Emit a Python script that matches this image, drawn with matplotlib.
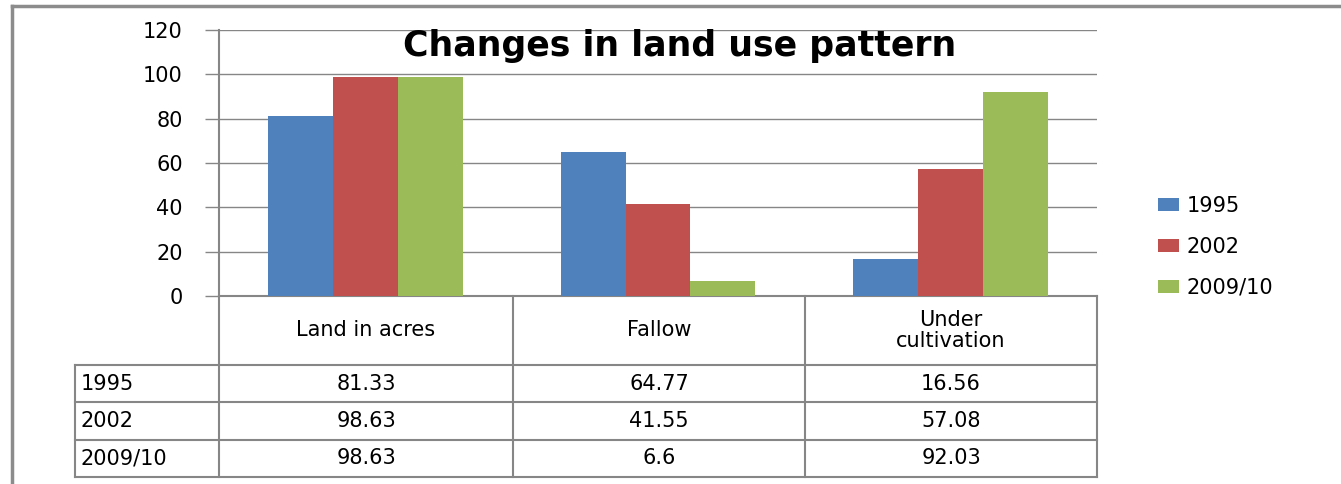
import numpy as np
import matplotlib.pyplot as plt
from matplotlib.lines import Line2D

# Chart data
categories = ['Land in acres', 'Fallow', 'Under\ncultivation']
series_names = ['1995', '2002', '2009/10']
values_1995 = [81.33, 64.77, 16.56]
values_2002 = [98.63, 41.55, 57.08]
values_2009 = [98.63, 6.6, 92.03]
colors = ['#4F81BD', '#C0504D', '#9BBB59']

W, H = 1341, 484
fig = plt.figure(figsize=(W / 100, H / 100), dpi=100)
plt.rcParams['font.family'] = 'DejaVu Sans'


def fx(px):
    return px / W


def fy(py):
    return 1 - py / H


grid_col = '#868686'
txt_size = 15

# plot area in pixels
left, right, top, bottom = 219, 1097, 30, 296
ax = fig.add_axes([fx(left), fy(bottom), fx(right) - fx(left), fy(top) - fy(bottom)])

x = np.arange(len(categories))
width = 0.222
all_values = [values_1995, values_2002, values_2009]
for i, (name, vals) in enumerate(zip(series_names, all_values)):
    ax.bar(x + (i - 1) * width, vals, width, color=colors[i], label=name, zorder=3)

ax.set_xlim(-0.5, len(categories) - 0.5)
ax.set_ylim(0, 120)
ax.set_yticks(range(0, 121, 20))
ax.yaxis.grid(True, color=grid_col, linewidth=1.0, zorder=0)
ax.set_xticks([])
for s in ['top', 'right']:
    ax.spines[s].set_visible(False)
for s in ['left', 'bottom']:
    ax.spines[s].set_color(grid_col)
    ax.spines[s].set_linewidth(1.5)
ax.tick_params(axis='y', length=10, color=grid_col, width=1.0, labelsize=txt_size, pad=16)

ax.text(0.525, 0.94, 'Changes in land use pattern', transform=ax.transAxes,
        ha='center', va='center', fontsize=25, fontweight='bold')

# legend
ax.legend(loc='center left', bbox_to_anchor=(fx(1139), fy(247)), bbox_transform=fig.transFigure,
          frameon=False, fontsize=txt_size, handlelength=1.0, handleheight=0.6,
          labelspacing=1.0, handletextpad=0.4)

# data table below the chart
col_edges = [219, 513, 805, 1097]
row_edges = [365, 402, 440, 477]
lw = 1.5


def hline(y, x0, x1):
    fig.add_artist(Line2D([fx(x0), fx(x1)], [fy(y), fy(y)], color=grid_col, lw=lw))


def vline(xp, y0, y1):
    fig.add_artist(Line2D([fx(xp), fx(xp)], [fy(y0), fy(y1)], color=grid_col, lw=lw))


for xp in col_edges:
    vline(xp, bottom, row_edges[-1])
vline(75, row_edges[0], row_edges[-1])
for yp in row_edges:
    hline(yp, 75, col_edges[-1])

for j, cat in enumerate(categories):
    cx = (col_edges[j] + col_edges[j + 1]) / 2
    fig.text(fx(cx), fy((bottom + row_edges[0]) / 2), cat, ha='center', va='center',
             fontsize=txt_size, linespacing=1.05)

for i, (name, vals) in enumerate(zip(series_names, all_values)):
    cy = (row_edges[i] + row_edges[i + 1]) / 2
    fig.text(fx(81), fy(cy), name, ha='left', va='center', fontsize=txt_size)
    for j, v in enumerate(vals):
        cx = (col_edges[j] + col_edges[j + 1]) / 2
        fig.text(fx(cx), fy(cy), f'{v:g}', ha='center', va='center', fontsize=txt_size)

# outer frame
fig.add_artist(Line2D([fx(12), fx(12)], [fy(6), 0], color='#8c8c8c', lw=2.5))
fig.add_artist(Line2D([fx(12), 1], [fy(6), fy(6)], color='#8c8c8c', lw=2.5))

fig.savefig('out.png', dpi=100)
